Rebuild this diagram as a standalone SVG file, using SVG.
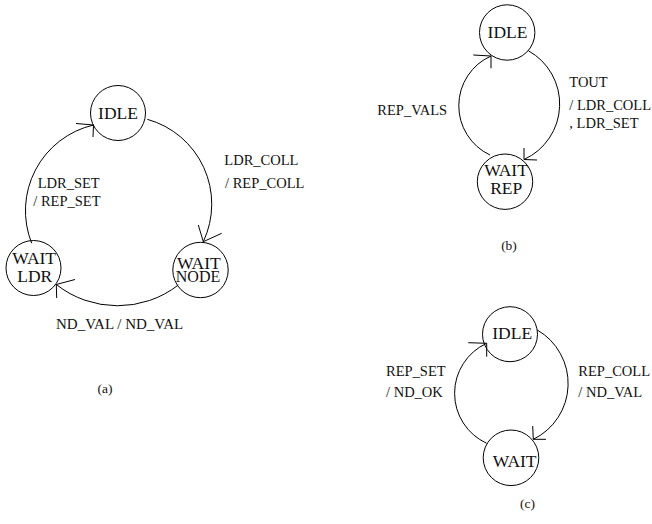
<svg xmlns="http://www.w3.org/2000/svg" width="652" height="524" viewBox="0 0 652 524">
<style>
.n{fill:none;stroke:#000;stroke-width:1}
.c{fill:none;stroke:#000;stroke-width:1}
.t{font-family:"Liberation Serif","Times New Roman",serif;fill:#111}
.nt{font-size:17.5px;text-anchor:middle}
.lb{font-size:14.5px}
.cap{font-size:13.5px;text-anchor:middle}
</style>
<rect width="652" height="524" fill="#fff"/>
<!-- Diagram (a) -->
<g id="a-idle"><circle class="n" cx="118" cy="113" r="27.5"/><text class="t nt" x="118" y="119.3">IDLE</text></g>
<g id="a-waitldr"><circle class="n" cx="33.5" cy="268" r="27.5"/><text class="t nt" x="34.2" y="264.3">WAIT</text><text class="t nt" x="34.7" y="282.3">LDR</text></g>
<g id="a-waitnode"><circle class="n" cx="200.5" cy="270" r="27.7"/><text class="t nt" x="198.8" y="269.3">WAIT</text><text class="t nt" x="198" y="282.3" style="font-size:16px">NODE</text></g>
<g id="connectors-a">
<path class="c" d="M147.3,119.3 A88,88 0 0,1 203.3,241.7"/>
<polyline class="c" points="198.3,225 203.3,241.7 221.7,233.3"/>
<path class="c" d="M178.3,285 A99,99 0 0,1 56.3,284.5"/>
<polyline class="c" points="75,279.5 56.3,284.5 56.7,298"/>
<path class="c" d="M31.7,243.3 A88,88 0 0,1 93.5,125"/>
<polyline class="c" points="76,123.5 93.5,125 93,137"/>
</g>
<text class="t lb" x="224.3" y="165">LDR_COLL</text>
<text class="t lb" x="225" y="188.3">/ REP_COLL</text>
<text class="t lb" x="37.7" y="188.3">LDR_SET</text>
<text class="t lb" x="33.3" y="206">/ REP_SET</text>
<text class="t lb" x="56" y="329.3" style="font-size:15px">ND_VAL / ND_VAL</text>
<text class="t cap" x="105" y="393">(a)</text>
<!-- Diagram (b) -->
<g id="b-idle"><circle class="n" cx="507.2" cy="32.5" r="27.7"/><text class="t nt" x="507.5" y="37.7">IDLE</text></g>
<g id="b-waitrep"><circle class="n" cx="505" cy="181.7" r="27.7"/><text class="t nt" x="506" y="176">WAIT</text><text class="t nt" x="506.2" y="194">REP</text></g>
<g id="connectors-b">
<path class="c" d="M528.3,50.7 A61,61 0 0,1 524,159.5"/>
<polyline class="c" points="524,148 524,159.5 537,160"/>
<path class="c" d="M490,155 A54.5,54.5 0 0,1 491,56"/>
<polyline class="c" points="473.3,55 491,56 491,68.3"/>
</g>
<text class="t lb" x="569.3" y="87.3">TOUT</text>
<text class="t lb" x="569.3" y="110">/ LDR_COLL</text>
<text class="t lb" x="569.3" y="128.3">, LDR_SET</text>
<text class="t lb" x="377.3" y="115">REP_VALS</text>
<text class="t cap" x="509" y="250">(b)</text>
<!-- Diagram (c) -->
<g id="c-idle"><circle class="n" cx="510" cy="334.2" r="27.5"/><text class="t nt" x="512.2" y="339.3">IDLE</text></g>
<g id="c-wait"><circle class="n" cx="511" cy="457.8" r="27.8"/><text class="t nt" x="514.7" y="466.7">WAIT</text></g>
<g id="connectors-c">
<path class="c" d="M537.3,330 A62,62 0 0,1 533.3,439.3"/>
<polyline class="c" points="532.7,426 533.3,439.3 546,439.3"/>
<path class="c" d="M486.7,443.3 A55,55 0 0,1 486.7,343.3"/>
<polyline class="c" points="468.3,342.7 486.7,343.3 486.7,356.7"/>
</g>
<text class="t lb" x="386" y="376">REP_SET</text>
<text class="t lb" x="386" y="397.3">/ ND_OK</text>
<text class="t lb" x="578.3" y="376">REP_COLL</text>
<text class="t lb" x="578.3" y="397.3">/ ND_VAL</text>
<text class="t cap" x="527.5" y="508">(c)</text>
</svg>
